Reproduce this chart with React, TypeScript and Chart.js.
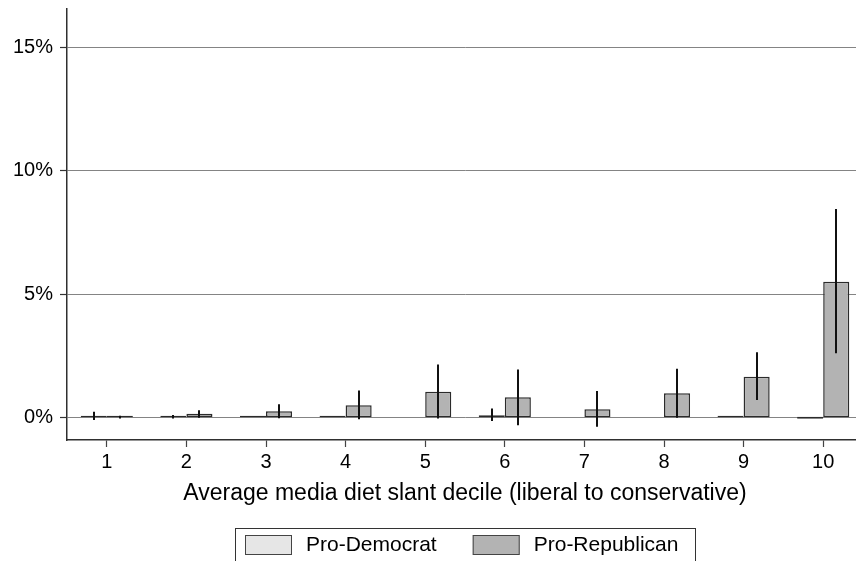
import React, { useEffect, useRef } from "react";
import { Chart, registerables } from "chart.js";

Chart.register(...registerables);

const FONT = "'Liberation Sans', Arial, Helvetica, sans-serif";

// ---- data ----
const categories = ["1", "2", "3", "4", "5", "6", "7", "8", "9", "10"];
const seriesNames = ["Pro-Democrat", "Pro-Republican"];

const demShare = [0.08, 0.02, 0.01, 0.01, null, 0.1, null, null, 0.01, 0.0];
const demLow = [-0.09, -0.03, null, null, null, -0.13, null, null, null, null];
const demHigh = [0.24, 0.11, null, null, null, 0.38, null, null, null, null];

const repShare = [0.03, 0.16, 0.26, 0.51, 1.05, 0.83, 0.35, 0.99, 1.66, 5.51];
const repLow = [-0.03, 0.0, -0.02, -0.06, -0.03, -0.3, -0.36, 0.0, 0.72, 2.61];
const repHigh = [0.08, 0.31, 0.55, 1.11, 2.16, 1.96, 1.08, 1.99, 2.65, 8.46];

const yTicks = [0, 5, 10, 15];
const yMin = -0.9;
const yMax = 16.56;

const xTitle = "Average media diet slant decile (liberal to conservative)";

const demColor = "#e6e6e6";
const repColor = "#b3b3b3";

const errorBarPlugin = {
  id: "errorBars",
  afterDatasetsDraw(chart: any) {
    const ctx = chart.ctx;
    const y = chart.scales.y;
    const sets = [
      [demLow, demHigh],
      [repLow, repHigh],
    ];
    ctx.save();
    ctx.strokeStyle = "#111111";
    ctx.lineWidth = 2;
    ctx.lineCap = "butt";
    sets.forEach(([lo, hi], di) => {
      const meta = chart.getDatasetMeta(di);
      meta.data.forEach((el: any, i: number) => {
        const l = lo[i];
        const h = hi[i];
        if (l == null || h == null) return;
        const x = Math.round(el.x);
        ctx.beginPath();
        ctx.moveTo(x, y.getPixelForValue(h));
        ctx.lineTo(x, y.getPixelForValue(l));
        ctx.stroke();
      });
    });
    ctx.restore();
  },
};

const legendBoxPlugin = {
  id: "legendBox",
  afterDraw(chart: any) {
    const ctx = chart.ctx;
    const area = chart.chartArea;
    const cx = (area.left + area.right) / 2;
    ctx.save();
    ctx.font = `21px ${FONT}`;
    const w1 = ctx.measureText(seriesNames[0]).width;
    const w2 = ctx.measureText(seriesNames[1]).width;
    const padL = 10;
    const sw = 47;
    const gap = 14;
    const between = 36;
    const padR = 17;
    const total = padL + sw + gap + w1 + between + sw + gap + w2 + padR;
    const left = Math.round(cx - total / 2);
    const top = Math.round(chart.scales.x.bottom + 18);
    ctx.strokeStyle = "#333333";
    ctx.lineWidth = 1;
    ctx.strokeRect(left + 0.5, top + 0.5, Math.round(total), 80);

    const swTop = top + 7;
    const swH = 20;
    let x = left + padL;
    const items = [
      [seriesNames[0], demColor, w1],
      [seriesNames[1], repColor, w2],
    ] as [string, string, number][];
    items.forEach(([label, color, w], k) => {
      ctx.fillStyle = color;
      ctx.fillRect(x, swTop, sw, swH);
      ctx.strokeStyle = "#444444";
      ctx.lineWidth = 1;
      ctx.strokeRect(x + 0.5, swTop + 0.5, sw - 1, swH - 1);
      x += sw + gap;
      ctx.fillStyle = "#000000";
      ctx.textBaseline = "middle";
      ctx.textAlign = "left";
      ctx.fillText(label, x, swTop + swH / 2);
      x += w + (k === 0 ? between : 0);
    });
    ctx.restore();
  },
};

export default function App() {
  const ref = useRef<HTMLCanvasElement | null>(null);

  useEffect(() => {
    document.body.style.margin = "0";
    document.body.style.overflow = "hidden";
    const canvas = ref.current;
    if (!canvas) return;
    const barCommon = {
      borderColor: "#2b2b2b",
      borderWidth: 1.5,
      borderSkipped: false,
      minBarLength: 2,
      categoryPercentage: 0.655,
      barPercentage: 1.0,
    };
    const chart = new Chart(canvas, {
      type: "bar",
      data: {
        labels: categories,
        datasets: [
          { label: seriesNames[0], data: demShare, backgroundColor: demColor, ...barCommon } as any,
          { label: seriesNames[1], data: repShare, backgroundColor: repColor, ...barCommon } as any,
        ],
      },
      options: {
        responsive: false,
        animation: false,
        devicePixelRatio: 1,
        layout: { padding: { top: 9, bottom: 51, left: 0, right: 0 } },
        plugins: {
          legend: { display: false },
          tooltip: { enabled: false },
        },
        scales: {
          x: {
            type: "category",
            offset: true,
            grid: {
              offset: false,
              drawOnChartArea: false,
              drawTicks: true,
              tickLength: 7,
              tickColor: "#444444",
              tickWidth: 1.2,
            },
            border: { display: true, color: "#2f2f2f", width: 1.5 },
            ticks: {
              color: "#000000",
              font: { family: FONT, size: 20 },
              padding: 3,
              maxRotation: 0,
              autoSkip: false,
            },
            title: {
              display: true,
              text: xTitle,
              color: "#000000",
              font: { family: FONT, size: 23 },
              padding: { top: 0, bottom: 3 },
            },
            afterFit(scale: any) {
              scale.height = 70;
              scale.paddingLeft = 0;
              scale.paddingRight = 0;
            },
          },
          y: {
            type: "linear",
            min: yMin,
            max: yMax,
            afterBuildTicks(scale: any) {
              scale.ticks = yTicks.map((v) => ({ value: v }));
            },
            grid: {
              color: "#848484",
              lineWidth: 1,
              drawTicks: true,
              tickLength: 7,
              tickColor: "#333333",
              tickWidth: 1.2,
            },
            border: { display: true, color: "#2f2f2f", width: 1.5 },
            ticks: {
              color: "#000000",
              font: { family: FONT, size: 20 },
              padding: 7,
              callback: (v: any) => `${v}%`,
            },
            afterFit(scale: any) {
              scale.width = 67;
              scale.paddingTop = 0;
              scale.paddingBottom = 0;
            },
          },
        },
      },
      plugins: [errorBarPlugin, legendBoxPlugin],
    });
    return () => chart.destroy();
  }, []);

  return (
    <div
      style={{
        position: "absolute",
        left: 0,
        top: 0,
        width: 856,
        height: 561,
        overflow: "hidden",
        background: "#ffffff",
      }}
    >
      <canvas ref={ref} width={863} height={561} style={{ display: "block" }} />
    </div>
  );
}
